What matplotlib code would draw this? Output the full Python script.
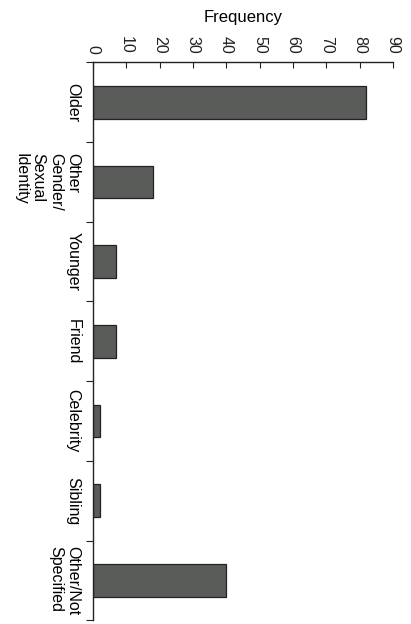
import numpy as np
from matplotlib import pyplot as plt

categories = ["Older", "Other\nGender/\nSexual\nIdentity", "Younger", "Friend",
              "Celebrity", "Sibling", "Other/Not\nSpecified"]
frequency = [82, 18, 7, 7, 2, 2, 40]
x_ticks = [0, 10, 20, 30, 40, 50, 60, 70, 80, 90]

plt.rcParams['font.family'] = ['Liberation Sans', 'DejaVu Sans']

fig = plt.figure(figsize=(4.11, 6.24), dpi=100)
ax = fig.add_axes([0.226, 0.006, 0.73, 0.894])

pos = np.arange(len(categories))
ax.barh(pos, frequency, height=0.41, color="#5a5c5a", edgecolor="#222222", linewidth=0.9)

ax.set_xlim(0, 90)
ax.set_ylim(len(categories) - 0.5, -0.5)

# frequency axis on top, labels turned like the scanned page
ax.xaxis.set_ticks_position("top")
ax.xaxis.set_label_position("top")
ax.set_xticks(x_ticks)
ax.set_xticklabels([str(t) for t in x_ticks], rotation=270, fontsize=11.5)
ax.tick_params(axis="x", direction="in", length=4, pad=6, colors="#222222")
ax.set_xlabel("Frequency", fontsize=12, labelpad=10)

# category ticks sit between bars, labels at bar centres
ax.set_yticks(np.arange(len(categories) + 1) - 0.5)
ax.set_yticklabels([])
ax.set_yticks(pos, minor=True)
ax.set_yticklabels(categories, minor=True, rotation=270, fontsize=11.5,
                   va="center", ha="right", multialignment="left")
ax.tick_params(axis="y", which="major", direction="out", length=5, colors="#222222")
ax.tick_params(axis="y", which="minor", length=0, pad=9)

for s in ["right", "bottom"]:
    ax.spines[s].set_visible(False)
for s in ["left", "top"]:
    ax.spines[s].set_color("#222222")
    ax.spines[s].set_linewidth(1.0)

fig.savefig("out.png", dpi=100)
